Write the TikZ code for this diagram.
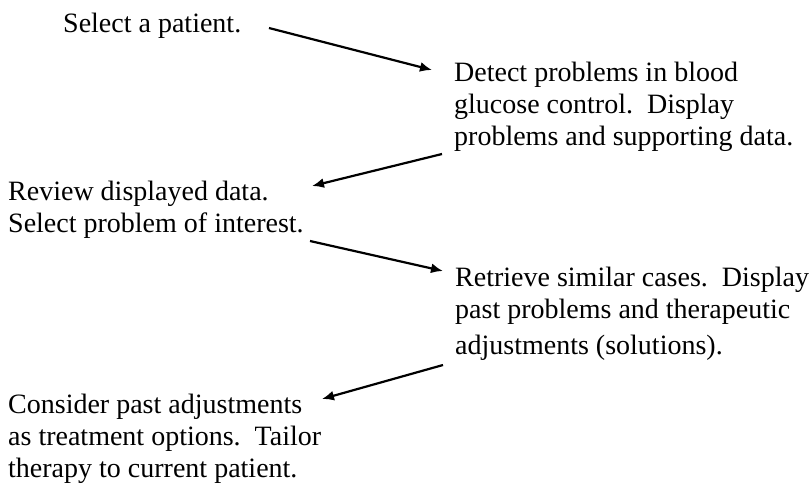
\documentclass[tikz,border=0pt]{standalone}
\usepackage{fontspec}
\setmainfont{Liberation Serif}
\usetikzlibrary{arrows.meta}
\tikzset{
  txt/.style={anchor=base west, inner sep=0pt, align=left, font=\fontsize{28}{31.7}\selectfont},
  flow/.style={line width=2.2pt, -{Latex[length=12pt,width=10pt]}}
}
\begin{document}
\begin{tikzpicture}[x=1pt,y=-1pt]
\useasboundingbox[fill=white] (0,0) rectangle (812,491);
\node[txt] (n1) at (63,32) {Select a patient.};
\node[txt] (n2) at (454,145) {Detect problems in blood\\glucose control.\ \ Display\\problems and supporting data.};
\node[txt] (n3) at (8,232) {Review displayed data.\\Select problem of interest.};
\node[txt] (n4) at (455,354) {Retrieve similar cases.\ \ Display\\past problems and therapeutic\\[4pt]adjustments (solutions).};
\node[txt] (n5) at (8,477) {Consider past adjustments\\as treatment options.\ \ Tailor\\therapy to current patient.};
\coordinate (a1s) at (269,28);
\coordinate (a1e) at (432,70);
\coordinate (a2s) at (442,154);
\coordinate (a2e) at (312,186);
\coordinate (a3s) at (310,241);
\coordinate (a3e) at (443,271);
\coordinate (a4s) at (443,365);
\coordinate (a4e) at (322,399);
\draw[flow] (a1s) -- (a1e);
\draw[flow] (a2s) -- (a2e);
\draw[flow] (a3s) -- (a3e);
\draw[flow] (a4s) -- (a4e);
\end{tikzpicture}
\end{document}
